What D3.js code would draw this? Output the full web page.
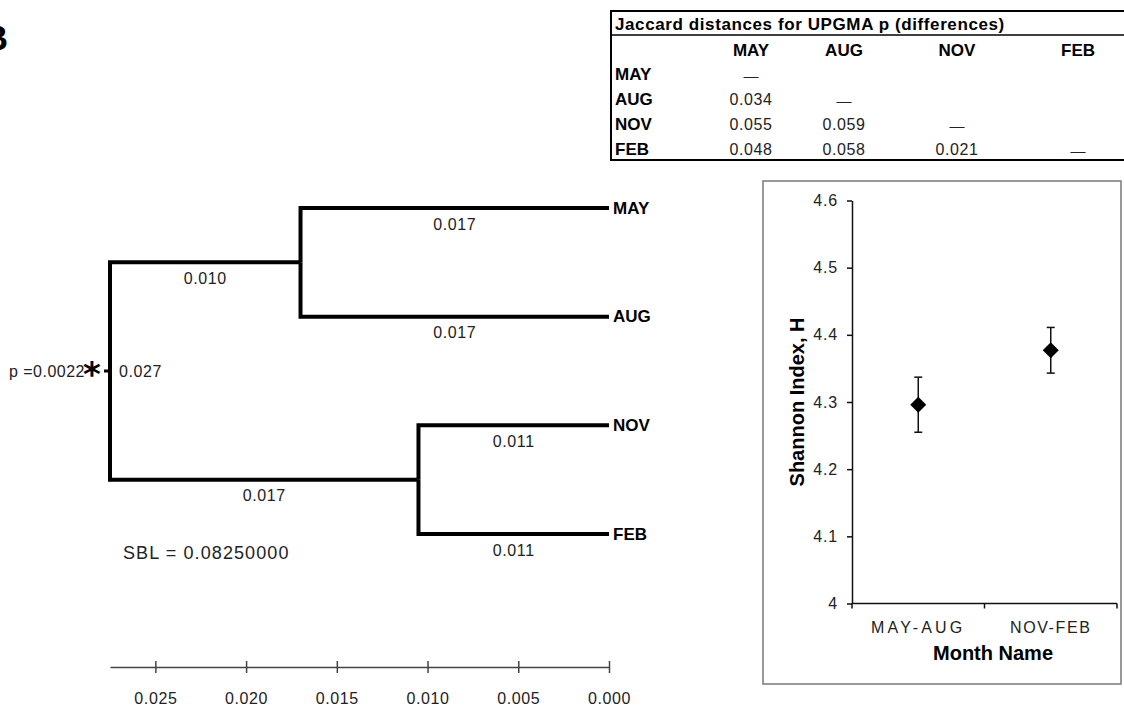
<!DOCTYPE html>
<html>
<head>
<meta charset="utf-8">
<script src="https://cdn.jsdelivr.net/npm/d3@7"></script>
<style>
  html, body { margin: 0; padding: 0; background: #fff; }
  svg { display: block; font-family: "Liberation Sans", Arial, sans-serif; }
</style>
</head>
<body>
<svg id="chart" width="1124" height="707"></svg>
<script>
// ---------------- DATA ----------------
const panelLetter = "B";

// UPGMA tree (node heights in distance units)
const treeNodes = [
  { id: "root",    parent: null,      height: 0.0275, label: "" },
  { id: "MAY-AUG", parent: "root",    height: 0.017,  label: "0.010" },
  { id: "NOV-FEB", parent: "root",    height: 0.0105, label: "0.017" },
  { id: "MAY",     parent: "MAY-AUG", height: 0,      label: "0.017" },
  { id: "AUG",     parent: "MAY-AUG", height: 0,      label: "0.017" },
  { id: "NOV",     parent: "NOV-FEB", height: 0,      label: "0.011" },
  { id: "FEB",     parent: "NOV-FEB", height: 0,      label: "0.011" }
];
const leaves = ["MAY", "AUG", "NOV", "FEB"];
const rootBranchLabel = "0.027";
const pValueLabel = "p =0.0022";
const sblLabel = "SBL = 0.08250000";
const distTicks = [0.025, 0.020, 0.015, 0.010, 0.005, 0.000];

// Jaccard distance table
const tableTitle = "Jaccard distances for UPGMA p (differences)";
const tableMonths = ["MAY", "AUG", "NOV", "FEB"];
const jaccardRows = [
  [0],
  [0.034, 0],
  [0.055, 0.059, 0],
  [0.048, 0.058, 0.021, 0]
];

// Shannon index panel
const groups = ["MAY-AUG", "NOV-FEB"];
const shannonMean = [4.296, 4.377];
const shannonErr = [0.041, 0.034];
const yTicks = [4, 4.1, 4.2, 4.3, 4.4, 4.5, 4.6];
const yTitle = "Shannon Index, H";
const xTitle = "Month Name";

// ---------------- DRAW ----------------
const svg = d3.select("#chart");

// Panel letter (partially cut off at left edge, as in the original)
svg.append("text").attr("x", 8).attr("y", 50)
  .attr("text-anchor", "end").attr("font-size", 35).attr("font-weight", "bold")
  .text(panelLetter);

// ---- Dendrogram ----
const x = d3.scaleLinear().domain([0.0275, 0]).range([110, 609]);
const yLeaf = d3.scalePoint().domain(leaves).range([208, 534]);

const root = d3.stratify().id(d => d.id).parentId(d => d.parent)(treeNodes);
root.eachAfter(n => { n.yy = n.children ? d3.mean(n.children, c => c.yy) : yLeaf(n.id); });

const tree = svg.append("g");
root.descendants().filter(n => n.parent).forEach(n => {
  const px = x(n.parent.data.height), py = n.parent.yy;
  const cx = x(n.data.height), cy = n.yy;
  tree.append("path")
    .attr("d", `M${px},${py}V${cy}H${cx}`)
    .attr("fill", "none").attr("stroke", "#000").attr("stroke-width", 4)
    .attr("stroke-linejoin", "miter").attr("stroke-linecap", "butt");
  tree.append("text")
    .attr("x", (px + cx) / 2).attr("y", cy + 16)
    .attr("text-anchor", "middle").attr("dominant-baseline", "central")
    .attr("font-size", 16).attr("letter-spacing", 0.6).attr("fill", "#222")
    .text(n.data.label);
});
// root stub
tree.append("line")
  .attr("x1", x(root.data.height) - 6).attr("x2", x(root.data.height))
  .attr("y1", root.yy).attr("y2", root.yy)
  .attr("stroke", "#000").attr("stroke-width", 3);

// leaf labels
root.leaves().forEach(n => {
  tree.append("text")
    .attr("x", x(0) + 4).attr("y", n.yy)
    .attr("dominant-baseline", "central")
    .attr("font-size", 17).attr("font-weight", "bold")
    .text(n.id);
});

// root labels
tree.append("text")
  .attr("x", x(root.data.height) + 9).attr("y", root.yy)
  .attr("dominant-baseline", "central")
  .attr("font-size", 16).attr("letter-spacing", 0.6).attr("fill", "#222")
  .text(rootBranchLabel);
tree.append("text")
  .attr("x", 85).attr("y", root.yy)
  .attr("text-anchor", "end").attr("dominant-baseline", "central")
  .attr("font-size", 16).attr("letter-spacing", 0.5).attr("fill", "#222")
  .text(pValueLabel);
tree.append("text")
  .attr("x", 92).attr("y", root.yy + 15)
  .attr("text-anchor", "middle")
  .attr("font-size", 34).attr("font-weight", "bold")
  .attr("font-family", "DejaVu Sans, sans-serif")
  .text("*");

// SBL
tree.append("text")
  .attr("x", 123).attr("y", 553)
  .attr("dominant-baseline", "central")
  .attr("font-size", 18).attr("letter-spacing", 1.1).attr("fill", "#222")
  .text(sblLabel);

// distance axis
const distAxis = svg.append("g").attr("transform", "translate(0,667)")
  .call(d3.axisBottom(x).tickValues(distTicks).tickFormat(d3.format(".3f"))
    .tickSizeOuter(0).tickSizeInner(6).tickPadding(20));
distAxis.select(".domain").attr("stroke", "#444").attr("stroke-width", 1.5);
distAxis.selectAll(".tick line").attr("y1", -6).attr("y2", 6)
  .attr("stroke", "#444").attr("stroke-width", 1.5);
distAxis.selectAll(".tick text")
  .attr("font-size", 16).attr("letter-spacing", 0.6).attr("fill", "#222")
  .attr("font-family", "Liberation Sans, Arial, sans-serif");

// ---- Table ----
const tbl = svg.append("g");
const colX = d3.scaleOrdinal().domain(tableMonths).range([751, 844, 957, 1078]);
const rowY = d3.scalePoint().domain(["hdr"].concat(tableMonths)).range([50, 149]);

tbl.append("line").attr("x1", 611).attr("x2", 1124).attr("y1", 11).attr("y2", 11)
  .attr("stroke", "#000").attr("stroke-width", 2);
tbl.append("line").attr("x1", 611).attr("x2", 1124).attr("y1", 35).attr("y2", 35)
  .attr("stroke", "#000").attr("stroke-width", 1.5);
tbl.append("line").attr("x1", 611).attr("x2", 1124).attr("y1", 160).attr("y2", 160)
  .attr("stroke", "#000").attr("stroke-width", 2);
tbl.append("line").attr("x1", 611).attr("x2", 611).attr("y1", 10).attr("y2", 161)
  .attr("stroke", "#000").attr("stroke-width", 2);

tbl.append("text").attr("x", 615).attr("y", 24)
  .attr("dominant-baseline", "central")
  .attr("font-size", 17).attr("font-weight", "bold").attr("letter-spacing", 0.6)
  .text(tableTitle);

tableMonths.forEach(m => {
  tbl.append("text").attr("x", colX(m)).attr("y", rowY("hdr"))
    .attr("text-anchor", "middle").attr("dominant-baseline", "central")
    .attr("font-size", 17).attr("font-weight", "bold").text(m);
  tbl.append("text").attr("x", 615).attr("y", rowY(m))
    .attr("dominant-baseline", "central")
    .attr("font-size", 17).attr("font-weight", "bold").text(m);
});
jaccardRows.forEach((row, i) => {
  row.forEach((v, j) => {
    tbl.append("text").attr("x", colX(tableMonths[j])).attr("y", rowY(tableMonths[i]) + (i === j ? 1 : 0))
      .attr("text-anchor", "middle").attr("dominant-baseline", "central")
      .attr("font-size", i === j ? 15 : 16).attr("letter-spacing", i === j ? 0 : 0.6)
      .attr("fill", "#222")
      .text(i === j ? "—" : d3.format(".3f")(v));
  });
});

// ---- Shannon panel ----
svg.append("rect").attr("x", 763).attr("y", 181).attr("width", 358).attr("height", 503)
  .attr("fill", "none").attr("stroke", "#777").attr("stroke-width", 1.5);

const yS = d3.scaleLinear().domain([4, 4.6]).range([603.5, 200.5]);
const xB = d3.scaleBand().domain(groups).range([852, 1117]);

const yAx = svg.append("g").attr("transform", "translate(852,0)")
  .call(d3.axisLeft(yS).tickValues(yTicks).tickFormat(d => String(d))
    .tickSizeOuter(0).tickSizeInner(5).tickPadding(9));
yAx.select(".domain").attr("stroke", "#111").attr("stroke-width", 1.5);
yAx.selectAll(".tick line").attr("stroke", "#111").attr("stroke-width", 1.5);
yAx.selectAll(".tick text").attr("font-size", 16).attr("letter-spacing", 0.8)
  .attr("fill", "#222").attr("font-family", "Liberation Sans, Arial, sans-serif");

// x axis
const xAx = svg.append("g");
xAx.append("line").attr("x1", xB.range()[0]).attr("x2", xB.range()[1])
  .attr("y1", yS(4)).attr("y2", yS(4)).attr("stroke", "#111").attr("stroke-width", 1.5);
groups.map(g => xB(g)).concat([xB.range()[1]]).forEach(t => {
  xAx.append("line").attr("x1", t).attr("x2", t).attr("y1", yS(4)).attr("y2", yS(4) + 5)
    .attr("stroke", "#111").attr("stroke-width", 1.5);
});
const xLabelSpacing = [3.2, 1.6];
groups.forEach((g, i) => {
  xAx.append("text").attr("x", xB(g) + xB.bandwidth() / 2).attr("y", 627)
    .attr("text-anchor", "middle").attr("dominant-baseline", "central")
    .attr("font-size", 16).attr("letter-spacing", xLabelSpacing[i]).attr("fill", "#222")
    .text(g);
});
svg.append("text").attr("x", 993).attr("y", 653)
  .attr("text-anchor", "middle").attr("dominant-baseline", "central")
  .attr("font-size", 20).attr("font-weight", "bold").text(xTitle);
svg.append("text").attr("transform", "translate(797,402) rotate(-90)")
  .attr("text-anchor", "middle").attr("dominant-baseline", "central")
  .attr("font-size", 20).attr("font-weight", "bold").text(yTitle);

// error bars + diamonds
const pts = svg.append("g");
groups.forEach((g, i) => {
  const cx = xB(g) + xB.bandwidth() / 2;
  const lo = yS(shannonMean[i] - shannonErr[i]), hi = yS(shannonMean[i] + shannonErr[i]);
  pts.append("line").attr("x1", cx).attr("x2", cx).attr("y1", lo).attr("y2", hi)
    .attr("stroke", "#111").attr("stroke-width", 1.5);
  [lo, hi].forEach(yy => pts.append("line").attr("x1", cx - 4).attr("x2", cx + 4)
    .attr("y1", yy).attr("y2", yy).attr("stroke", "#111").attr("stroke-width", 1.5));
  pts.append("path")
    .attr("d", d3.symbol(d3.symbolSquare, 128)())
    .attr("transform", `translate(${cx},${yS(shannonMean[i])}) rotate(45)`)
    .attr("fill", "#000");
});
</script>
</body>
</html>
